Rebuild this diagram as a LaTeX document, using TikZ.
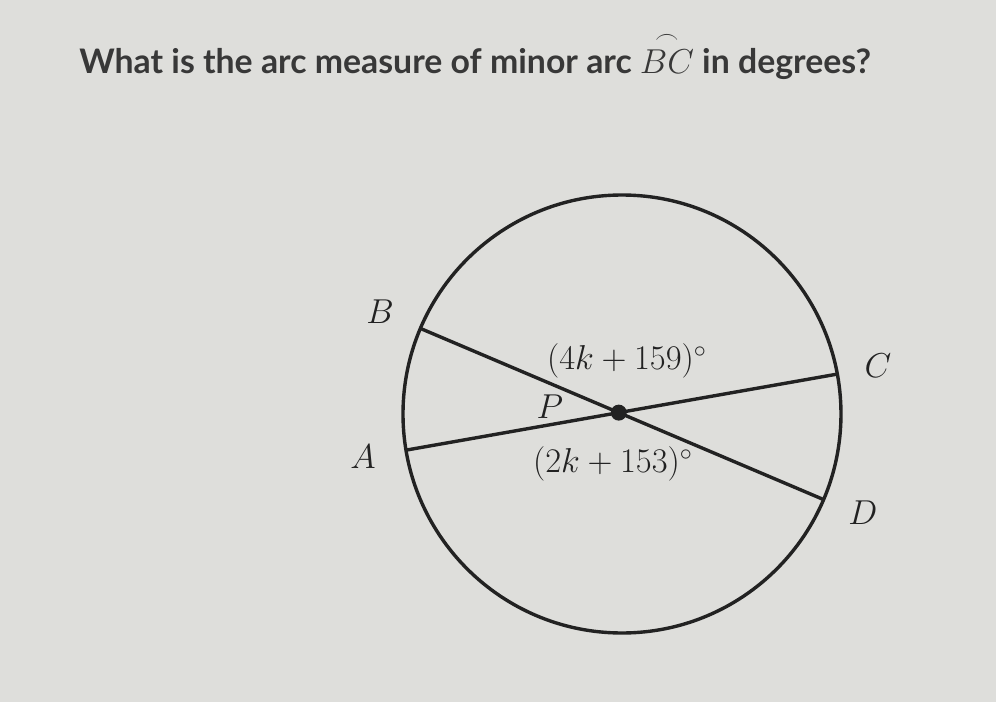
\documentclass[tikz,border=0pt]{standalone}
\usepackage{amsmath,amssymb}
\usepackage{fontspec}
\newfontfamily\questionfont{Lato}
\usepackage{tikz}

\definecolor{paper}{RGB}{222,222,219}
\definecolor{ink}{RGB}{34,34,34}

\begin{document}
\begin{tikzpicture}[
	x=0.5pt, y=0.5pt,
	chord/.style = {draw=ink, line width=1.7pt},
	ptlabel/.style = {text=ink, font=\fontsize{16}{19}\selectfont},
	anglabel/.style = {text=ink, font=\fontsize{16.5}{19}\selectfont},
]
\fill[paper] (-622,-288) rectangle (374,414);
\useasboundingbox (-622,-288) rectangle (374,414);

\node[anchor=base west, inner sep=0pt, text=ink!90, font=\questionfont\bfseries\fontsize{16.9}{20}\selectfont] (question) at (-543,340)
	{What is the arc measure of minor arc $\overset{\frown}{BC}$ in degrees?};

\coordinate (O) at (0,0);
\coordinate (B) at (157:219);
\coordinate (D) at (-23:219);
\coordinate (A) at (189.5:219);
\coordinate (C) at (10.5:219);
\coordinate (P) at (intersection of B--D and A--C);

\draw[chord] (O) circle (219);
\draw[chord] (B) -- (D);
\draw[chord] (A) -- (C);
\fill[ink] (P) circle (8);

\node[ptlabel] (lB) at (-242,102) {$B$};
\node[ptlabel] (lA) at (-259,-43) {$A$};
\node[ptlabel] (lC) at (256,48) {$C$};
\node[ptlabel] (lD) at (241,-99) {$D$};
\node[ptlabel] (lP) at (-72,7) {$P$};
\node[anglabel] (top) at (5,53) {$(4k+159)^\circ$};
\node[anglabel] (bottom) at (-9,-50) {$(2k+153)^\circ$};
\end{tikzpicture}
\end{document}
